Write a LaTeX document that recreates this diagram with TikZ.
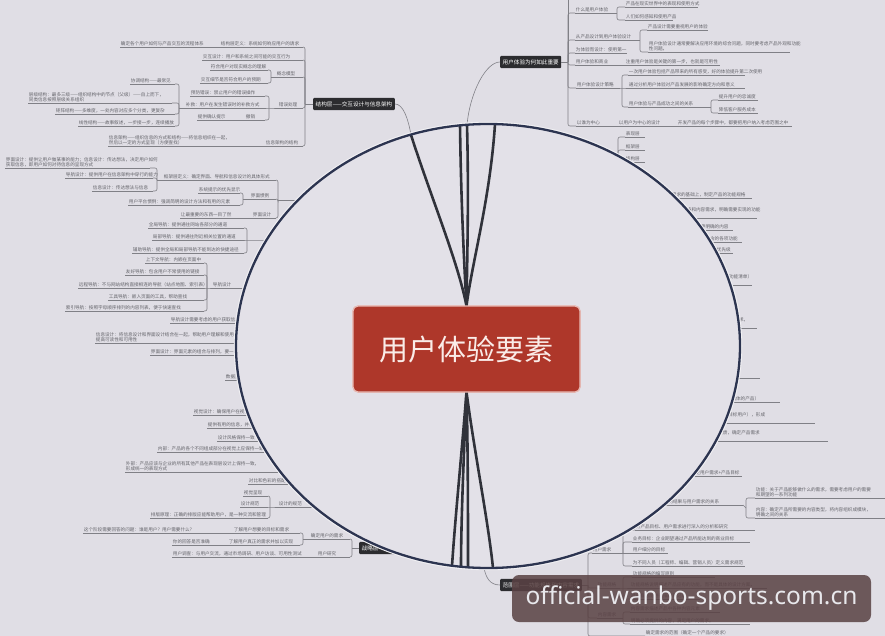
\documentclass[tikz,border=0pt]{standalone}
\usepackage{fontspec}
\newfontfamily\cjk{Noto Sans CJK SC}
\newfontfamily\wmfont{Noto Sans}
\definecolor{bgc}{RGB}{224,222,229}
\definecolor{bgin}{RGB}{227,225,232}
\definecolor{txc}{RGB}{100,100,106}
\definecolor{lnc}{RGB}{128,128,134}
\definecolor{dk}{RGB}{44,44,47}
\definecolor{ring}{RGB}{44,52,80}
\definecolor{lensline}{RGB}{48,50,58}
\definecolor{redbox}{RGB}{174,55,42}
\definecolor{redrim}{RGB}{232,186,180}
\definecolor{wmbox}{RGB}{90,66,68}
\definecolor{wmtext}{RGB}{232,232,236}
\newcommand\mmt[5]{\node[tx] (#1) at (#2,#3) {#5};\coordinate (#1e) at (#4,#3);\draw[ulin] (#1.south west) -- (#1e);}
\newcommand\mlb[4]{\node[tx] (#1) at (#2,#3) {#4};}
\newcommand\mtie[2]{\draw[lin] (#1) -| (#2);}
\newcommand\rtie[2]{\draw[lin] (#1) |- (#2.south west);}
\begin{document}
\begin{tikzpicture}[x=1pt,y=-1pt,
 tx/.style={font=\cjk\fontsize{4.6}{5.6}\selectfont,text=txc,anchor=south west,inner sep=0.7pt,align=left},
 ulin/.style={draw=lnc,line width=0.6pt},
 lin/.style={draw=lnc,line width=0.6pt,rounded corners=2pt},
 dbox/.style={fill=dk,text=white,font=\cjk\fontsize{5.6}{6.6}\selectfont,rounded corners=1pt,inner xsep=2.5pt,inner ysep=3.5pt,anchor=west},
 lensstroke/.style={draw=lensline,line width=2.6pt},
 centerbox/.style={fill=redbox,draw=redrim,line width=1.2pt,rounded corners=5pt,minimum width=227pt,minimum height=86pt,inner sep=0pt,text={rgb,255:red,250;green,236;blue,232},font=\cjk\fontsize{29}{33}\selectfont},
 ]
\useasboundingbox (0,0) rectangle (885,636);
\fill[bgc] (0,0) rectangle (885,636);

% ---------- top-left branch ----------
\node[dbox] (jg) at (313,104) {结构层——交互设计与信息架构};
\coordinate (m1) at (305,104);
\draw[lin] (jg.west) -- (m1);
\mmt{a1}{120}{47}{303}{确定各个用户如何与产品交互的流程体系}
\mlb{a1b}{220}{47}{结构层定义：系统如何响应用户的请求}
\mtie{a1e}{m1}
\mmt{a2}{202}{60}{303}{交互设计：用户和系统之间可能的交互行为}
\mtie{a2e}{m1}
\mmt{a3}{276}{77}{303}{概念模型}
\mtie{a3e}{m1}
\mmt{a31}{210}{70}{268}{符合用户对现实概念的理解}
\mmt{a32}{200}{83}{268}{交互细节是否符合用户的预期}
\coordinate (m3) at (271,77);
\draw[lin] (a31e) -| (m3) |- (a32e);
\draw[lin] (m3) -- (a3.south west);
\mmt{a4}{278}{108}{303}{错误处理}
\mtie{a4e}{m1}
\mmt{a41}{190}{96}{265}{预防错误：禁止用户的错误操作}
\mmt{a42}{185}{108}{265}{补救：用户在发生错误时的补救方式}
\mmt{a43}{197}{120}{265}{提供确认提示}
\mlb{a43b}{245}{120}{撤销}
\coordinate (m4) at (269,108);
\draw[lin] (a41e) -| (m4) |- (a43e);
\draw[lin] (a42e) -- (m4) -- (a4.south west);
\mmt{a51}{130}{84}{175}{协调结构——最常见}
\mmt{a52}{28}{103}{172}{层级结构：最多三级——组织结构中的节点（父级）——自上而下，\\同类信息按照层级关系组织}
\mmt{a53}{55}{114}{175}{矩阵结构——多维度，一处内容对应多个分类，更复杂}
\mmt{a54}{78}{126}{175}{线性结构——故事叙述，一步接一步，连续播放}
\coordinate (m5) at (179,108);
\draw[lin] (a51e) -| (m5) |- (a54e);
\mtie{a52e}{m5}
\mtie{a53e}{m5}
\draw[lin] (m5) -- (a42.south west);
\mmt{a6}{108}{146}{303}{信息架构——组织信息的方式和结构——将信息组织在一起，\\然后以一定的方式呈现（方便查找）}
\mlb{a6b}{265}{146}{信息架构的结构}
\mtie{a6e}{m1}

% ---------- left: framework ----------
\mmt{b1}{5}{168}{150}{界面设计：提供让用户做某事的能力；信息设计：传达想法，决定用户如何\\获取信息，即用户如何对待信息的呈现方式}
\mmt{b2}{65}{178}{153}{导航设计：提供用户在信息架构中穿行的能力}
\mmt{b3}{92}{191}{153}{信息设计：传达想法与信息}
\coordinate (m7) at (157,180);
\draw[lin] (b1e) -| (m7) |- (b3e);
\mtie{b2e}{m7}
\mmt{b4}{163}{180}{276}{框架层定义：确定界面、导航和信息设计的具体形式}
\draw[lin] (m7) -- (b4.south west);
\coordinate (m6) at (278,200);
\mtie{b4e}{m6}
\mmt{b5}{198}{193}{240}{系统提示的优先显示}
\mmt{b6}{128}{205}{240}{用户平台惯例：强调简明的设计方法和有用的元素}
\coordinate (m8) at (243,199);
\draw[lin] (b5e) -| (m8) |- (b6e);
\mmt{b7}{250}{199}{276}{界面惯例}
\draw[lin] (m8) -- (b7.south west);
\mtie{b7e}{m6}
\mmt{b8}{180}{218}{276}{让最重要的东西一目了然}
\mlb{b8b}{252}{218}{界面设计}
\mtie{b8e}{m6}
\draw[lin] (m6) -- (330,200);

\mmt{c1}{148}{228}{244}{全局导航：提供通往网站各部分的通道}
\mmt{c2}{152}{240}{244}{局部导航：提供通往附近相关位置的通道}
\mmt{c3}{132}{253}{244}{辅助导航：提供全局和局部导航不能到达的快捷途径}
\coordinate (m9) at (247,240);
\draw[lin] (c1e) -| (m9) |- (c3e);
\draw[lin] (c2e) -- (m9) -- (330,240);

\mmt{d1}{145}{263}{204}{上下文导航：内嵌在页面中}
\mmt{d2}{125}{275}{204}{友好导航：包含用户不常使用的链接}
\mmt{d3}{78}{288}{204}{远程导航：不与网站结构直接相连的导航（站点地图、索引表）}
\mmt{d4}{108}{300}{204}{工具导航：嵌入页面的工具，帮助查找}
\mmt{d5}{65}{311}{204}{索引导航：按照字母顺序排列的内容列表，便于快速查找}
\coordinate (m10) at (207,288);
\draw[lin] (d1e) -| (m10) |- (d5e);
\mtie{d2e}{m10}
\mtie{d4e}{m10}
\mmt{d6}{212}{288}{330}{导航设计}
\draw[lin] (d3e) -- (m10) -- (d6.south west);
\mmt{d7}{170}{323}{330}{导航设计需要考虑的用户获取信息的要点}
\mmt{d8}{95}{343}{330}{信息设计：将信息设计和界面设计结合在一起，帮助用户理解和使用这些信息，\\提高可读性和可用性}
\mmt{d9}{150}{355}{330}{界面设计：界面元素的组合与排列，要一目了然}
\mmt{d10}{225}{380}{330}{数据呈现}

% ---------- left: surface ----------
\mmt{e1}{193}{415}{330}{视觉设计：确保用户在视觉上的体验}
\mmt{e2}{207}{428}{330}{提供有用的信息，并将信息清晰呈现}
\mmt{e3}{217}{441}{330}{设计风格保持一致}
\mmt{e4}{157}{452}{330}{内部：产品的各个不同组成部分在视觉上应保持一致的设计风格}
\mmt{e5}{125}{472}{330}{外部：产品应该与企业的所有其他产品在表现层设计上保持一致，\\形成统一的表现方式}
\mmt{e6}{248}{484}{330}{对比和色彩的搭配}
\mmt{e7}{243}{496}{268}{视觉呈现}
\mmt{e8}{240}{507}{268}{设计规范}
\mmt{e10}{150}{518}{268}{排版原理：正确的排版应能帮助用户，是一种交流和管理}
\coordinate (m11) at (270,507);
\draw[lin] (e7e) -| (m11) |- (e10e);
\mmt{e9}{278}{507}{330}{设计的规范}
\draw[lin] (e8e) -- (m11) -- (e9.south west);

% ---------- left: strategy ----------
\mmt{f1}{83}{533}{300}{这个阶段需要回答的问题：谁是用户？用户需要什么？}
\mlb{f1b}{233}{533}{了解用户想要的目标和需求}
\mmt{f2}{172}{545}{300}{你的回答是否准确}
\mlb{f2b}{228}{545}{了解用户真正的需求并加以实现}
\coordinate (m12) at (303,539);
\draw[lin] (f1e) -| (m12) |- (f2e);
\mmt{f3}{310}{539}{350}{确定用户的需求}
\draw[lin] (m12) -- (f3.south west);
\mmt{f4}{172}{557}{350}{用户调查：与用户交流，通过市场调研、用户访谈、可用性测试}
\mlb{f4b}{317}{557}{用户研究}
\coordinate (m13) at (352,548);
\draw[lin] (f3e) -| (m13) |- (f4e);
\node[dbox] (zl) at (359,548) {战略层——产品目标和用户需求};
\draw[lin] (m13) -- (zl.west);

% ---------- top-right branch ----------
\node[dbox] (ty) at (500,62) {用户体验为何如此重要};
\coordinate (m20) at (568,62);
\draw[lin] (ty.east) -- (m20);
\draw[lin] (m20) -- (568,0);
\mmt{g1}{575}{13}{615}{什么是用户体验}
\mmt{g11}{625}{7}{698}{产品在现实世界中的表现和使用方式}
\mmt{g12}{625}{20}{673}{人们如何感知和使用产品}
\coordinate (m21) at (617,13);
\draw[lin] (g1e) -- (m21);
\draw[lin] (g11.south west) -| (m21) |- (g12.south west);
\mmt{g3}{575}{40}{638}{从产品设计到用户体验设计}
\mmt{g2}{647}{30}{708}{产品设计需要重视用户的体验}
\mmt{g31}{648}{52}{790}{用户体验设计通常要解决应用环境的综合问题，同时要考虑产品外观和功能\\性问题。}
\coordinate (m22) at (640,40);
\draw[lin] (g3e) -- (m22);
\draw[lin] (g2.south west) -| (m22) |- (g31.south west);
\mmt{g4}{575}{53}{627}{为体验而设计：使用第一}
\mmt{g5}{575}{65}{720}{用户体验和商业}
\mlb{g5b}{625}{65}{注重用户体验是关键的第一步，也就是可用性}
\mmt{g6}{576}{88}{620}{用户体验设计策略}
\mmt{g61}{628}{75}{745}{一次用户体验包括产品带来的所有感受，好的体验提升第二次使用}
\mmt{g62}{628}{88}{745}{通过分析用户体验对产品发展的影响确定方向和意义}
\mmt{g63}{628}{107}{708}{用户体验与产品成功之间的关系}
\coordinate (m23) at (622,88);
\draw[lin] (g6e) -- (m23) -- (g62.south west);
\draw[lin] (g61.south west) -| (m23) |- (g63.south west);
\mmt{g631}{718}{100}{758}{提升用户的忠诚度}
\mmt{g632}{718}{113}{758}{降低客户服务成本}
\coordinate (m24) at (711,107);
\draw[lin] (g63e) -- (m24);
\draw[lin] (g631.south west) -| (m24) |- (g632.south west);
\mmt{g7}{576}{126}{792}{以谁为中心}
\mlb{g7b}{618}{126}{以用户为中心的设计}
\mlb{g7c}{677}{126}{开发产品的每个步骤中，都要把用户纳入考虑范围之中}
\rtie{m20}{g1}
\rtie{m20}{g3}
\rtie{m20}{g4}
\rtie{m20}{g5}
\rtie{m20}{g6}
\rtie{m20}{g7}
\mmt{h1}{625}{137}{645}{表现层}
\mmt{h2}{625}{150}{645}{框架层}
\mmt{h3}{625}{162}{645}{结构层}
\coordinate (m25) at (618,185);
\draw[lin] (h1.south west) -| (m25);
\draw[lin] (h2.south west) -| (m25);
\draw[lin] (h3.south west) -| (m25);

% ---------- right: scope ----------
\mmt{i1}{648}{198}{752}{在了解用户需求的基础上，制定产品的功能规格}
\mmt{i2}{663}{218}{757}{通过功能规格和内容需求，明确需要实现的功能\\和内容}
\mmt{i3}{677}{230}{733}{项目范围需要明确的内容}
\mmt{i4}{677}{242}{742}{确定产品需要包含的各项功能}
\mmt{i5}{693}{253}{733}{以及功能的优先级}
\mmt{i6}{650}{285}{752}{撰写需求文档，明确产品的开发范围（功能清单）\\并记录下来}
\mmt{i7}{660}{328}{757}{范围层把战略层的目标转化为具体的需求，\\形成规格}
\mmt{i8}{650}{378}{760}{范围层的需求要能够达成用户体验的目标。}
\mmt{i9}{680}{402}{780}{范围层定义：功能（不是具体的产品）}
\mmt{i10}{640}{423}{815}{确定用户的需求（功能、性能、使用情境、目标用户），形成\\功能组合}
\mmt{i11}{630}{441}{828}{了解市场的期待、竞争对手的情况、用户的反馈，确定产品需求\\的范围}
\mmt{i12}{690}{476}{742}{确定用户需求+产品目标}
\mmt{i13}{640}{505}{743}{平衡产品目标的结果与用户需求的关系}
\mmt{j1}{755}{498}{885}{功能：关于产品能够做什么的需求，需要考虑用户的需要\\和期望的一系列功能}
\mmt{j2}{755}{518}{885}{内容：确定产品所需要的内容类型，将内容组织成模块，\\明确之间的关系}
\coordinate (m26) at (746,508);
\draw[lin] (i13e) -- (m26);
\draw[lin] (j1.south west) -| (m26) |- (j2.south west);
\mmt{i14}{635}{530}{755}{对产品目标、用户需求进行深入的分析和研究}
\mmt{i15}{632}{542}{750}{业务目标：企业期望通过产品所能达到的商业目标}
\mmt{i16}{632}{553}{668}{用户细分的目标}
\mmt{i17}{632}{566}{745}{为不同人员（工程师、编辑、营销人员）定义需求规范}
\coordinate (m27) at (623,553);
\draw[lin] (i14.south west) -| (m27) |- (i17.south west);
\draw[lin] (i15.south west) -| (m27);
\draw[lin] (m27) -- (i16.south west);
\mmt{k0}{592}{553}{620}{用户需求}
\draw[lin] (k0e) -- (m27);
\mmt{k3}{632}{577}{715}{功能规格的编写原则}
\mmt{k1}{630}{588}{767}{功能规格说明描述产品应有的功能，而不是具体的设计方案。}
\mmt{k2}{630}{599}{700}{对已有功能进行描述和记录}
\mmt{kf}{597}{588}{620}{功能规格}
\coordinate (m28) at (623,588);
\draw[lin] (kf.south east) -- (m28) -- (k1.south west);
\draw[lin] (k3.south west) -| (m28) |- (k2.south west);
\mmt{k5}{630}{612}{720}{内容需求描述产品中各种内容元素}
\mmt{k6}{630}{624}{750}{明确必须提供的内容，满足用户的需求。}
\mmt{k4}{597}{618}{620}{内容需求}
\coordinate (m29) at (623,618);
\draw[lin] (k4e) -- (m29);
\draw[lin] (k5.south west) -| (m29) |- (k6.south west);
\mmt{k7}{645}{636}{780}{确定需求的范围（确定一个产品的要求）}
\node[dbox] (fw) at (500,585) {范围层——功能规格和内容需求};
\coordinate (m30) at (588,585);
\draw[lin] (fw.east) -- (m30);
\draw[lin] (m30) |- (k0.south west);
\draw[lin] (m30) |- (kf.south west);
\draw[lin] (m30) |- (k4.south west);
\draw[lin] (m30) |- (k7.south west);

% ---------- connectors outside lens ----------
\coordinate (p1) at (411,135);
\coordinate (p2) at (467,125);
\coordinate (p3) at (484,568);
\draw[lin] (jg.east) .. controls (403,104) and (408,118) .. (p1);
\draw[lin] (ty.west) .. controls (486,62) and (470,92) .. (p2);
\draw[lin] (p3) .. controls (486,578) and (490,585) .. (fw.west);

% ---------- lens ----------
\draw[white!55!bgc,line width=4.5pt] (488,346) ellipse [x radius=252pt,y radius=222pt];
\fill[bgin] (488,346) ellipse [x radius=252pt,y radius=222pt];

\node[centerbox] (cb) at (466.5,349) {用户体验要素};
\coordinate (ct) at (466.5,306);
\coordinate (cs) at (466.5,392);
\coordinate (q1) at (460,125);
\coordinate (q2) at (495,124);
\coordinate (r1) at (452,566);
\coordinate (r2) at (461,567);
\coordinate (r3) at (468,568);
\coordinate (r4) at (493,568);
\draw[lensstroke] (p1) .. controls (432,200) and (458,262) .. (ct);
\draw[lensstroke] (q1) .. controls (461,200) and (464,262) .. (ct);
\draw[lensstroke] (p2) .. controls (469,200) and (467,262) .. (ct);
\draw[lensstroke] (q2) .. controls (490,200) and (472,262) .. (ct);
\draw[lensstroke] (cs) .. controls (462,450) and (455,520) .. (r1);
\draw[lensstroke] (cs) .. controls (464,450) and (461,520) .. (r2);
\draw[lensstroke] (cs) .. controls (468,450) and (468,520) .. (r3);
\draw[lensstroke] (cs) .. controls (474,450) and (488,520) .. (r4);
\node[centerbox] (cb2) at (466.5,349) {用户体验要素};
\draw[ring,line width=2.3pt] (488,346) ellipse [x radius=252pt,y radius=222pt];

% ---------- watermark ----------
\node[fill=wmbox,fill opacity=0.86,text opacity=1,rounded corners=7pt,minimum width=359pt,minimum height=47pt,inner sep=0pt,text=wmtext,font=\wmfont\fontsize{24.5}{28}\selectfont] (wm) at (691.5,598.5) {official-wanbo-sports.com.cn};
\end{tikzpicture}
\end{document}
